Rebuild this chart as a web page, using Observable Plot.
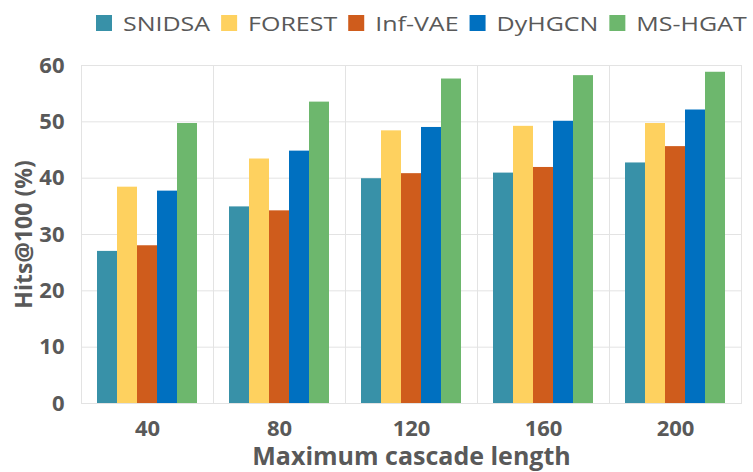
<!DOCTYPE html>
<html>
<head>
<meta charset="utf-8">
<script src="https://cdn.jsdelivr.net/npm/d3@7"></script>
<script src="https://cdn.jsdelivr.net/npm/@observablehq/plot@0.6"></script>
<style>
  html, body { margin: 0; padding: 0; background: #fff; }
  #chart { width: 753px; }
  #chart svg { display: block; }
</style>
</head>
<body>
<div id="chart"></div>
<script>
const lengths = ["40", "80", "120", "160", "200"];
const models = ["SNIDSA", "FOREST", "Inf-VAE", "DyHGCN", "MS-HGAT"];
const colors = ["#3891A8", "#FED15F", "#CF5C1C", "#0070C0", "#6DB76D"];
const yTicks = [0, 10, 20, 30, 40, 50, 60];

const SNIDSA = [27.0, 34.9, 39.9, 40.9, 42.7];
const FOREST = [38.4, 43.4, 48.4, 49.2, 49.7];
const InfVAE = [28.0, 34.2, 40.8, 41.9, 45.6];
const DyHGCN = [37.7, 44.8, 49.0, 50.1, 52.1];
const MSHGAT = [49.7, 53.5, 57.6, 58.2, 58.8];

const series = [SNIDSA, FOREST, InfVAE, DyHGCN, MSHGAT];
const data = [];
lengths.forEach((len, j) => {
  models.forEach((m, i) => {
    data.push({length: len, model: m, value: series[i][j]});
  });
});

const container = document.getElementById("chart");

// Legend
const legend = d3.create("svg").attr("width", 753).attr("height", 40);
container.appendChild(legend.node());
let lx = 96;
models.forEach((m, i) => {
  legend.append("rect").attr("x", lx).attr("y", 15).attr("width", 16).attr("height", 16).attr("fill", colors[i]);
  lx += 27;
  const t = legend.append("text")
    .attr("transform", `translate(${lx},31) scale(1.25,1)`)
    .attr("font-family", "Open Sans")
    .attr("font-size", 20)
    .attr("fill", "#595959")
    .text(m);
  lx += t.node().getComputedTextLength() * 1.25 + 11;
});

const chart = Plot.plot({
  width: 753,
  height: 432,
  marginTop: 25,
  marginBottom: 69,
  marginLeft: 80,
  marginRight: 11,
  style: {fontFamily: "Open Sans", fontSize: "22px", fontWeight: "bold", color: "#595959", background: "#fff"},
  fx: {domain: lengths, padding: 0},
  x: {domain: models, paddingInner: 0, paddingOuter: 0.7, axis: null},
  y: {domain: [0, 60]},
  color: {domain: models, range: colors},
  marks: [
    Plot.gridY(yTicks, {stroke: "#e3e3e3", strokeOpacity: 1}),
    Plot.frame({stroke: "#e3e3e3"}),
    Plot.barY(data, {fx: "length", x: "model", y: "value", fill: "model"}),
    Plot.axisY(yTicks, {tickSize: 0, tickPadding: 17, fill: "#595959", label: null, fontSize: 22}),
    Plot.axisY([], {tickSize: 0, fill: "#595959", label: "Hits@100 (%)", labelArrow: "none", labelAnchor: "center", labelOffset: 66, dy: -7, fontSize: 23}),
    Plot.axisFx({anchor: "bottom", tickSize: 0, tickPadding: 17, fill: "#595959", label: null}),
    Plot.axisFx([], {anchor: "bottom", tickSize: 0, fill: "#595959", label: "Maximum cascade length", labelArrow: "none", labelAnchor: "center", labelOffset: 61, dx: -13, fontSize: 25})
  ]
});
container.appendChild(chart);
</script>
</body>
</html>
